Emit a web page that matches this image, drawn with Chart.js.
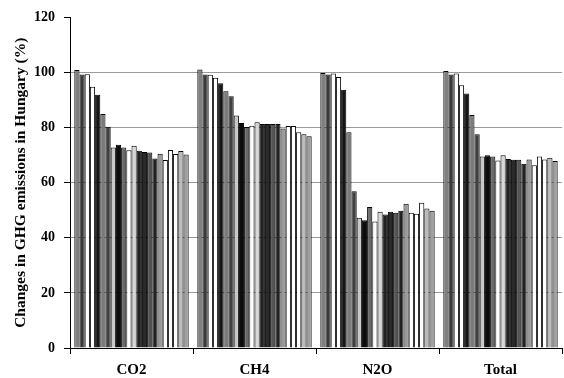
<!DOCTYPE html>
<html>
<head>
<meta charset="utf-8">
<script src="https://cdn.jsdelivr.net/npm/chart.js@4"></script>
<style>
  html, body { margin: 0; padding: 0; background: #fff; }
  #wrap { width: 564px; height: 378px; }
</style>
</head>
<body>
<div id="wrap"><canvas id="ghgChart"></canvas></div>
<script>
// gases shown on the x axis
const gases = ['CO2', 'CH4', 'N2O', 'Total'];
// one bar per year inside each gas group
const years = ['1985','1986','1987','1988','1989','1990','1991','1992','1993','1994','1995',
               '1996','1997','1998','1999','2000','2001','2002','2003','2004','2005','2006'];

// % of base year
const co2   = [100.9, 99.3, 99.4, 94.8, 91.9, 84.9, 80.3, 72.8, 73.8, 72.8, 71.8,
               73.4, 71.6, 71.1, 71.0, 68.8, 70.5, 68.2, 71.9, 70.4, 71.5, 70.2];
const ch4   = [101.1, 99.3, 99.2, 98.1, 96.1, 93.2, 91.4, 84.4, 81.7, 80.2, 80.7,
               81.9, 81.3, 81.3, 81.3, 81.3, 79.7, 80.6, 80.6, 78.3, 77.6, 76.9];
const n2o   = [99.8, 99.3, 99.6, 98.4, 93.7, 78.3, 56.9, 47.3, 46.4, 51.2, 45.9,
               49.5, 48.5, 49.5, 49.1, 49.8, 52.4, 49.1, 48.7, 52.7, 50.6, 49.8];
const total = [100.5, 99.3, 99.6, 95.4, 92.4, 84.6, 77.6, 69.5, 70.0, 69.5, 68.1,
               70.0, 68.6, 68.3, 68.3, 66.9, 68.4, 66.3, 69.5, 68.4, 69.1, 67.9];

const yTicks = [0, 20, 40, 60, 80, 100, 120];

// grey shade of each year's bar
const shades = ['#808080','#3a3a3a','#ffffff','#ffffff','#151515','#7a7a7a','#404040',
                '#c8c8c8','#0d0d0d','#6a6a6a','#ffffff','#d8d8d8','#222222','#2a2a2a',
                '#555555','#222222','#999999','#ffffff','#ffffff','#ffffff','#bbbbbb','#a0a0a0'];

const datasets = years.map((yr, i) => ({
    label: yr,
    data: [co2[i], ch4[i], n2o[i], total[i]],
    backgroundColor: shades[i],
    borderColor: '#000',
    borderWidth: 1,
    categoryPercentage: 0.93,
    barPercentage: 1
}));

const serif = "'Liberation Serif', 'Times New Roman', serif";

new Chart(document.getElementById('ghgChart'), {
    type: 'bar',
    data: { labels: gases, datasets: datasets },
    options: {
        responsive: true,
        maintainAspectRatio: false,
        animation: false,
        layout: { padding: { top: 15, right: 2, left: 0, bottom: 0 } },
        plugins: { legend: { display: false }, tooltip: { enabled: false } },
        scales: {
            x: {
                grid: { drawOnChartArea: false, color: '#000', tickLength: 6, offset: true },
                border: { color: '#000', width: 1 },
                ticks: { color: '#000', padding: 7, font: { family: serif, size: 15, weight: 'bold' } },
                afterFit: s => { s.height = 30; }
            },
            y: {
                min: 0,
                max: 120,
                afterBuildTicks: s => { s.ticks = yTicks.map(v => ({ value: v })); },
                grid: {
                    color: c => (c.tick && (c.tick.value === 0 || c.tick.value === 120)) ? 'rgba(0,0,0,0)' : '#9a9a9a',
                    tickColor: '#000',
                    tickLength: 6
                },
                border: { color: '#000', width: 1 },
                ticks: { color: '#000', padding: 9, font: { family: serif, size: 14, weight: 'bold' } },
                title: {
                    display: true,
                    text: 'Changes in GHG emissions in Hungary (%)',
                    color: '#000',
                    padding: { top: 12, bottom: 0 },
                    font: { family: serif, size: 15.5, weight: 'bold' }
                },
                afterFit: s => { s.width = 70; }
            }
        }
    }
});
</script>
</body>
</html>
